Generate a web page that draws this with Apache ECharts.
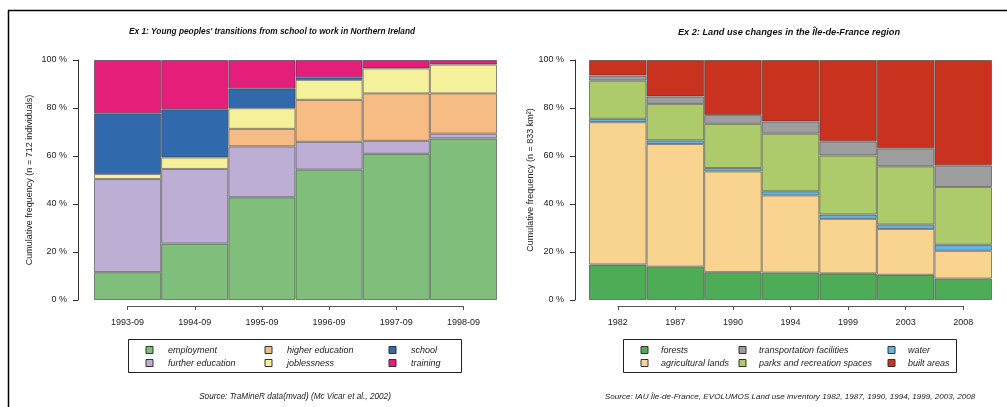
<!DOCTYPE html>
<html>
<head>
<meta charset="utf-8">
<script src="https://cdn.jsdelivr.net/npm/echarts@6/dist/echarts.min.js"></script>
<style>
    body { margin: 0; background: #fff; }
    #main { width: 1007px; height: 407px; }
</style>
</head>
<body>
<div id="main"></div>
<script>
// Ex 1: sequence states, percent of individuals
const months = ['1993-09', '1994-09', '1995-09', '1996-09', '1997-09', '1998-09']
const employment = [11.6, 23.5, 42.8, 54.3, 60.9, 67.3]
const furtherEducation = [38.8, 31.1, 21.2, 11.6, 5.4, 2.0]
const higherEducation = [0, 0, 7.3, 17.5, 19.8, 16.8]
const joblessness = [2.1, 4.8, 8.6, 8.3, 10.4, 12.0]
const school = [25.3, 20.1, 8.3, 1.1, 0, 0]
const training = [22.2, 20.5, 11.8, 7.2, 3.5, 1.9]

// Ex 2: land use, percent of area
const years = ['1982', '1987', '1990', '1994', '1999', '2003', '2008']
const forests = [14.8, 13.9, 11.6, 11.4, 11.1, 10.5, 8.9]
const agriculturalLands = [59.3, 51.1, 42.0, 32.2, 22.7, 19.1, 11.6]
const water = [1.4, 1.5, 1.4, 1.7, 1.8, 1.8, 2.5]
const parks = [15.9, 15.2, 18.4, 24.0, 24.6, 24.3, 24.1]
const transportation = [2.1, 3.1, 3.7, 5.1, 5.9, 7.5, 9.0]
const builtAreas = [6.5, 15.2, 22.9, 25.6, 33.9, 36.8, 43.9]

const yTicks = [0, 20, 40, 60, 80, 100]

const font = 'Liberation Sans'
const txt = '#222'

const leftSeries = [
    ['employment', employment, '#80bf7b'],
    ['further education', furtherEducation, '#bdaed4'],
    ['higher education', higherEducation, '#f7bb84'],
    ['joblessness', joblessness, '#f5f09a'],
    ['school', school, '#316aac'],
    ['training', training, '#e51e7c']
]
const rightSeries = [
    ['forests', forests, '#4fac56'],
    ['agricultural lands', agriculturalLands, '#f9d390'],
    ['water', water, '#62b5e1'],
    ['parks and recreation spaces', parks, '#aecb6b'],
    ['transportation facilities', transportation, '#9e9e9e'],
    ['built areas', builtAreas, '#c9321f']
]

function makeBars (list, axisIndex, stack) {
    return list.map(function (s) {
        return {
            name: s[0],
            type: 'bar',
            stack: stack,
            xAxisIndex: axisIndex,
            yAxisIndex: axisIndex,
            barWidth: '100%',
            barCategoryGap: 0,
            itemStyle: {
                color: s[2],
                borderColor: 'rgba(50,50,50,0.55)',
                borderWidth: 1
            },
            data: s[1].map(function (v) { return v || '-' })
        }
    })
}

function yAxisFor (gridIndex, offset, name, nameGap) {
    return {
        type: 'value',
        gridIndex: gridIndex,
        min: yTicks[0],
        max: yTicks[yTicks.length - 1],
        interval: yTicks[1] - yTicks[0],
        offset: offset,
        name: name,
        nameLocation: 'middle',
        nameGap: nameGap,
        nameTextStyle: { fontFamily: font, fontSize: 9, color: txt },
        axisLine: { show: true, lineStyle: { color: '#333', width: 1 } },
        axisTick: { show: true, length: 5, lineStyle: { color: '#333' } },
        splitLine: { show: false },
        axisLabel: {
            formatter: '{value} %',
            margin: 11,
            fontFamily: font,
            fontSize: 9,
            color: txt
        }
    }
}

function tickAxis (gridIndex, data) {
    return {
        type: 'category',
        gridIndex: gridIndex,
        data: data,
        boundaryGap: false,
        axisLine: { show: true, lineStyle: { color: '#555', width: 1 } },
        axisTick: { show: true, length: 4, lineStyle: { color: '#555' } },
        splitLine: { show: false },
        axisLabel: { margin: 12, fontFamily: font, fontSize: 9, color: txt }
    }
}

function legendCol (names, left, top, pad) {
    return {
        orient: 'vertical',
        left: left,
        top: top,
        itemWidth: 7,
        itemHeight: 7,
        itemGap: 3,
        selectedMode: false,
        icon: 'rect',
        itemStyle: { borderColor: '#333', borderWidth: 1 },
        textStyle: {
            fontFamily: font,
            fontSize: 9,
            fontStyle: 'italic',
            color: txt,
            lineHeight: 10,
            padding: [0, 0, 0, pad]
        },
        data: names
    }
}

const option = {
    animation: false,
    backgroundColor: '#fff',
    grid: [
        { left: 94, right: 510, top: 60, bottom: 107 },
        { left: 589, right: 15, top: 60, bottom: 107 },
        { left: 127.6, right: 543.6, top: 60, bottom: 101 },
        { left: 617.8, right: 43.8, top: 60, bottom: 101 }
    ],
    xAxis: [
        { type: 'category', gridIndex: 0, data: months, show: false },
        { type: 'category', gridIndex: 1, data: years, show: false },
        tickAxis(2, months),
        tickAxis(3, years)
    ],
    yAxis: [
        yAxisFor(0, 16, 'Cumulative frequency (n = 712 individuals)', 44),
        yAxisFor(1, 14, 'Cumulative frequency (n = 833 km²)', 36),
        { type: 'value', gridIndex: 2, show: false },
        { type: 'value', gridIndex: 3, show: false }
    ],
    legend: [
        legendCol(['employment', 'further education'], 140.5, 340, 10),
        legendCol(['higher education', 'joblessness'], 259.5, 340, 10),
        legendCol(['school', 'training'], 383.5, 340, 10),
        legendCol(['forests', 'agricultural lands'], 635.5, 340, 8),
        legendCol(['transportation facilities', 'parks and recreation spaces'], 733.5, 340, 8),
        legendCol(['water', 'built areas'], 882.5, 340, 8)
    ],
    graphic: [
        { type: 'line', shape: { x1: 8.5, y1: 10, x2: 8.5, y2: 407 }, style: { stroke: '#000', lineWidth: 1.5 } },
        { type: 'line', shape: { x1: 8, y1: 10.5, x2: 1007, y2: 10.5 }, style: { stroke: '#000', lineWidth: 1.5 } },
        { type: 'rect', shape: { x: 128.5, y: 339.5, width: 333, height: 33 }, style: { fill: 'none', stroke: '#222', lineWidth: 1 } },
        { type: 'rect', shape: { x: 623.5, y: 339.5, width: 333, height: 33 }, style: { fill: 'none', stroke: '#222', lineWidth: 1 } },
        {
            type: 'text', x: 272, y: 32,
            style: {
                text: 'Ex 1: Young peoples\' transitions from school to work in Northern Ireland',
                font: 'italic bold 8.3px "Liberation Sans"', fill: '#111', align: 'center', verticalAlign: 'middle'
            }
        },
        {
            type: 'text', x: 789, y: 32,
            style: {
                text: 'Ex 2: Land use changes in the Île-de-France region',
                font: 'italic bold 9.2px "Liberation Sans"', fill: '#111', align: 'center', verticalAlign: 'middle'
            }
        },
        {
            type: 'text', x: 295, y: 397,
            style: {
                text: 'Source: TraMineR data(mvad) (Mc Vicar et al., 2002)',
                font: 'italic 8.2px "Liberation Sans"', fill: txt, align: 'center', verticalAlign: 'middle'
            }
        },
        {
            type: 'text', x: 790, y: 397,
            style: {
                text: 'Source: IAU Île-de-France, EVOLUMOS Land use inventory 1982, 1987, 1990, 1994, 1999, 2003, 2008',
                font: 'italic 8.1px "Liberation Sans"', fill: txt, align: 'center', verticalAlign: 'middle'
            }
        }
    ],
    series: makeBars(leftSeries, 0, 'seq').concat(makeBars(rightSeries, 1, 'land'))
}

const myChart = echarts.init(document.getElementById('main'))
myChart.setOption(option)
</script>
</body>
</html>
